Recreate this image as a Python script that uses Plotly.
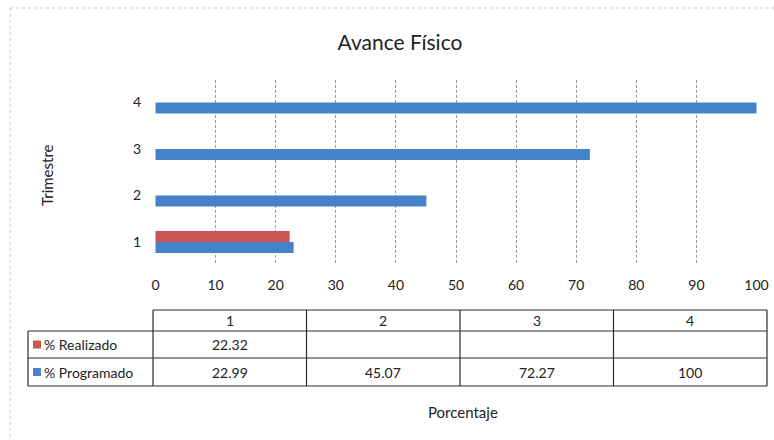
import plotly.graph_objects as go

# ---- data ----
trimestres = [1, 2, 3, 4]
tick_labels = ["1", "2", "3", "4"]
realizado = [22.32, None, None, None]
programado = [22.99, 45.07, 72.27, 100]
series_names = ["% Realizado", "% Programado"]
x_ticks = [0, 10, 20, 30, 40, 50, 60, 70, 80, 90, 100]

RED = "#cb5550"
BLUE = "#4682c8"
FONT = "Lato"

W, H = 774, 440
L, R, T, B = 155, 757, 80, 263


def xp(px):
    return (px - L) / (R - L)


def yp(py):
    return (B - py) / (B - T)


fig = go.Figure()
fig.add_trace(go.Bar(y=trimestres, x=programado, orientation="h", name=series_names[1],
                     marker=dict(color=BLUE, line=dict(width=0)), showlegend=False))
fig.add_trace(go.Bar(y=trimestres, x=realizado, orientation="h", name=series_names[0],
                     marker=dict(color=RED, line=dict(width=0)), showlegend=False))

shapes = []
annotations = []

# outer chart border (dotted, scanned look) – only top and left edges visible
border = dict(color="#c4c4c4", width=1, dash="dot")
shapes.append(dict(type="line", xref="paper", yref="paper", x0=xp(10), x1=xp(774),
                   y0=yp(8), y1=yp(8), line=border))
shapes.append(dict(type="line", xref="paper", yref="paper", x0=xp(10), x1=xp(10),
                   y0=yp(8), y1=yp(440), line=border))

# ---- data table ----
col_edges = [153 + i * 153.5 for i in range(5)]
line_style = dict(color="#2a2a2a", width=1.2)
for py, xa, xb in [(310, 153, 767), (331, 28, 767), (358, 28, 767), (386, 28, 767)]:
    shapes.append(dict(type="line", xref="paper", yref="paper", x0=xp(xa), x1=xp(xb),
                       y0=yp(py), y1=yp(py), line=line_style))
shapes.append(dict(type="line", xref="paper", yref="paper", x0=xp(28), x1=xp(28),
                   y0=yp(331), y1=yp(386), line=line_style))
for cx in col_edges:
    shapes.append(dict(type="line", xref="paper", yref="paper", x0=xp(cx), x1=xp(cx),
                       y0=yp(310), y1=yp(386), line=line_style))

tfont = dict(family=FONT, size=14, color="#222")
row_y = {"head": 320.5, 0: 344.5, 1: 372}


def note(px, py, text, font, xanchor="center", **kw):
    annotations.append(dict(x=xp(px), y=yp(py), xref="paper", yref="paper", text=text,
                            showarrow=False, xanchor=xanchor, yanchor="middle",
                            font=font, **kw))


for i, lab in enumerate(tick_labels):
    cx = (col_edges[i] + col_edges[i + 1]) / 2
    note(cx, row_y["head"], lab, tfont)
    for r, vals in enumerate([realizado, programado]):
        v = vals[i]
        if v is not None:
            note(cx, row_y[r], f"{v:g}", tfont)

for r, (name, col) in enumerate(zip(series_names, [RED, BLUE])):
    yc = row_y[r]
    shapes.append(dict(type="rect", xref="paper", yref="paper", x0=xp(33), x1=xp(41),
                       y0=yp(yc + 4), y1=yp(yc - 4), fillcolor=col, line=dict(width=0)))
    note(42, yc, name, tfont, xanchor="left")

# axis titles
note(47, 175, "Trimestre", dict(family=FONT, size=15, color="#222"), textangle=-90)
note(463, 412, "Porcentaje", dict(family=FONT, size=15, color="#222"))

fig.update_layout(
    width=W, height=H,
    margin=dict(l=L, r=W - R, t=T, b=H - B, pad=0, autoexpand=False),
    paper_bgcolor="white", plot_bgcolor="white",
    barmode="group", bargap=0.527, bargroupgap=0,
    title=dict(text="Avance Físico", x=400 / W, y=1 - 43 / H, xanchor="center",
               yanchor="middle", xref="container", yref="container",
               font=dict(family=FONT, size=21, color="#222")),
    xaxis=dict(range=[-0.08, 100.08], tickvals=x_ticks, showgrid=True, gridcolor="#9a9a9a",
               griddash="3px,2px", gridwidth=1, zeroline=False, showline=False,
               ticks="", ticklabelstandoff=12, automargin=False,
               tickfont=dict(family=FONT, size=14, color="#222")),
    yaxis=dict(range=[0.55, 4.485], tickvals=trimestres, ticktext=tick_labels,
               showgrid=False, zeroline=False, showline=False, ticks="",
               ticklabelstandoff=13, automargin=False,
               tickfont=dict(family=FONT, size=14, color="#222")),
    shapes=shapes,
    annotations=annotations,
)

fig.write_html("out.html", config={"displayModeBar": False},
               post_script="document.body.style.margin='0px';document.body.style.padding='0px';")
